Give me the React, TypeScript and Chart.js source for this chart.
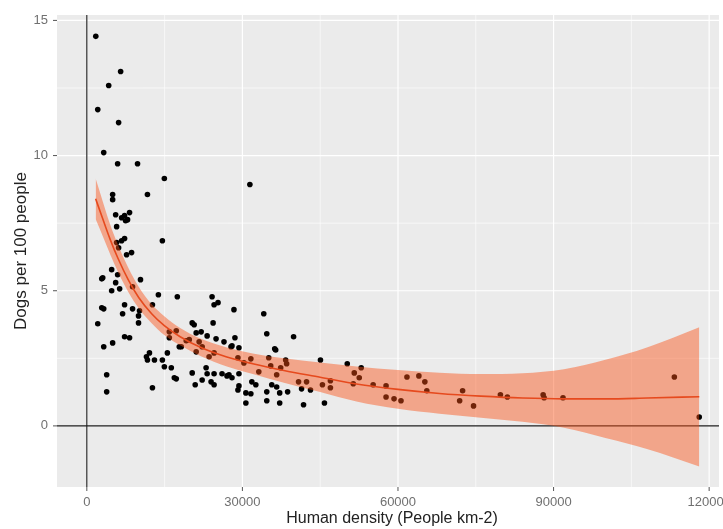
import React, { useEffect, useRef } from "react";
import { Chart, registerables } from "chart.js";

Chart.register(...registerables);

// Observed data: human density (people km-2) vs dogs per 100 people
const densityX = [
  1730, 6520, 4220, 2110, 6130, 3260, 5940, 9780, 14950, 11690,
  4980, 4980, 5560, 6710, 8240, 7860, 7280, 7480, 5750, 7280,
  6710, 14570, 5750, 6130, 8630, 7670, 4790, 5940, 3070, 5560,
  10350, 6330, 4790, 8820, 13800, 17450, 3260, 7280, 6900, 8820,
  10160, 9970, 12650, 2110, 9970, 7280, 8240, 4980, 3260, 20320,
  17250, 15910, 19170, 17830, 12080, 11690, 13040, 15530, 14950, 16290,
  17250, 20320, 20900, 3830, 12650, 3830, 24150, 24540, 25300, 28370,
  34120, 20700, 24350, 34700, 39870, 21090, 22050, 23200, 24920, 26450,
  27800, 28560, 29330, 36230, 22240, 21090, 23580, 24540, 29140, 31630,
  35080, 38340, 38530, 37380, 35460, 33160, 29330, 36610, 23000, 23200,
  24540, 26070, 27030, 27990, 22240, 23960, 24540, 29330, 29140, 31820,
  32590, 30670, 31630, 35660, 36610, 34700, 37190, 38720, 30670, 34700,
  37190, 41790, 40830, 42370, 43130, 36420, 45050, 50220, 52910, 51570,
  52530, 46970, 46970, 45430, 41410, 45820, 51380, 55210, 57700, 57700,
  59240, 60580, 61730, 64030, 65180, 65560, 72460, 71890, 74570, 79750,
  81090, 87990, 88180, 91820, 113290, 118090, 31440, 2880, 2880, 11500,
  14570, 16870, 15910, 18210, 19750, 21660, 27990, 30290, 27410,
];
const dogsY = [
  14.41, 13.11, 12.59, 11.7, 11.22, 10.11, 9.7, 9.7, 9.15, 8.56,
  8.56, 8.37, 7.81, 7.7, 7.89, 7.63, 7.78, 7.59, 7.37, 6.93,
  6.85, 6.85, 6.78, 6.59, 6.41, 6.33, 5.78, 5.59, 5.48, 5.3,
  5.41, 5.07, 5.0, 5.15, 4.85, 4.78, 4.33, 4.48, 4.15, 4.33,
  4.26, 4.07, 4.48, 3.78, 3.81, 3.3, 3.26, 3.07, 2.93, 3.81,
  3.52, 3.26, 3.15, 2.93, 2.7, 2.44, 2.44, 2.7, 2.19, 2.15,
  1.74, 1.96, 1.52, 1.89, 1.41, 1.26, 4.78, 4.48, 4.56, 4.3,
  4.15, 3.74, 3.81, 3.41, 3.3, 3.44, 3.48, 3.33, 3.22, 3.11,
  2.93, 3.26, 2.89, 2.85, 2.93, 2.74, 2.56, 2.7, 2.52, 2.48,
  2.52, 2.44, 2.3, 2.15, 2.22, 2.0, 1.93, 1.89, 2.15, 1.93,
  1.93, 1.93, 1.85, 1.78, 1.7, 1.63, 1.52, 1.48, 1.33, 1.63,
  1.52, 1.22, 1.19, 1.52, 1.44, 1.26, 1.22, 1.26, 0.85, 0.93,
  0.85, 0.78, 1.63, 1.63, 1.33, 2.81, 2.44, 2.3, 2.15, 1.96,
  1.78, 1.67, 1.41, 1.52, 1.37, 0.85, 1.56, 1.52, 1.48, 1.07,
  1.0, 0.93, 1.81, 1.85, 1.63, 1.3, 1.3, 0.93, 0.74, 1.15,
  1.07, 1.15, 1.04, 1.04, 1.81, 0.33, 8.93, 5.44, 4.37, 2.56,
  2.44, 1.78, 3.48, 2.93, 3.19, 3.11, 2.96, 2.33, 1.89,
];

// Fitted smooth curve and its confidence band
const fitX = [1700, 3000, 4500, 6000, 8000, 10000, 12500, 15000, 18000, 22000, 27000, 32000, 38000, 45000, 52000, 60000, 68000, 76000, 84000, 92000, 100000, 108000, 118100];
const fitY = [8.4, 7.7, 6.9, 6.2, 5.4, 4.75, 4.15, 3.7, 3.3, 2.9, 2.55, 2.3, 2.05, 1.8, 1.55, 1.35, 1.2, 1.1, 1.03, 1.0, 1.0, 1.03, 1.08];
const fitUpper = [9.15, 8.35, 7.45, 6.7, 5.85, 5.15, 4.5, 4.05, 3.62, 3.22, 2.9, 2.68, 2.5, 2.35, 2.2, 2.07, 1.97, 1.92, 1.95, 2.1, 2.45, 2.9, 3.65];
const fitLower = [7.65, 7.05, 6.35, 5.7, 4.95, 4.35, 3.8, 3.35, 2.98, 2.58, 2.2, 1.92, 1.6, 1.25, 0.9, 0.63, 0.45, 0.3, 0.15, -0.07, -0.45, -0.85, -1.5];

const xTicks = [0, 30000, 60000, 90000, 120000];
const yTicks = [0, 5, 10, 15];
const xMinor = [15000, 45000, 75000, 105000];
const yMinor = [2.5, 7.5, 12.5];
const xRange = [-5750, 121900];
const yRange = [-2.26, 15.2];

const xTitle = "Human density (People km-2)";
const yTitle = "Dogs per 100 people";

const FONT = "'Liberation Sans', Arial, sans-serif";

const panelPlugin = {
  id: "ggpanel",
  beforeDatasetsDraw(chart: any) {
    const { ctx, chartArea: a, scales } = chart;
    const xs = scales.x;
    const ys = scales.y;
    ctx.save();
    ctx.fillStyle = "#EBEBEB";
    ctx.fillRect(a.left, a.top, a.right - a.left, a.bottom - a.top);
    ctx.strokeStyle = "#FFFFFF";
    ctx.lineWidth = 0.6;
    xMinor.forEach((v) => {
      const p = xs.getPixelForValue(v);
      ctx.beginPath();
      ctx.moveTo(p, a.top);
      ctx.lineTo(p, a.bottom);
      ctx.stroke();
    });
    yMinor.forEach((v) => {
      const p = ys.getPixelForValue(v);
      ctx.beginPath();
      ctx.moveTo(a.left, p);
      ctx.lineTo(a.right, p);
      ctx.stroke();
    });
    ctx.lineWidth = 1.2;
    xTicks.forEach((v) => {
      const p = xs.getPixelForValue(v);
      ctx.beginPath();
      ctx.moveTo(p, a.top);
      ctx.lineTo(p, a.bottom);
      ctx.stroke();
    });
    yTicks.forEach((v) => {
      const p = ys.getPixelForValue(v);
      ctx.beginPath();
      ctx.moveTo(a.left, p);
      ctx.lineTo(a.right, p);
      ctx.stroke();
    });
    ctx.strokeStyle = "#1a1a1a";
    ctx.lineWidth = 1.1;
    const x0 = xs.getPixelForValue(0);
    const y0 = ys.getPixelForValue(0);
    ctx.beginPath();
    ctx.moveTo(x0, a.top);
    ctx.lineTo(x0, a.bottom);
    ctx.stroke();
    ctx.beginPath();
    ctx.moveTo(a.left, y0);
    ctx.lineTo(a.right, y0);
    ctx.stroke();
    ctx.restore();
  },
  afterDraw(chart: any) {
    const { ctx, chartArea: a, scales } = chart;
    const xs = scales.x;
    const ys = scales.y;
    ctx.save();
    ctx.strokeStyle = "#555555";
    ctx.lineWidth = 1;
    xTicks.forEach((v) => {
      const p = xs.getPixelForValue(v);
      ctx.beginPath();
      ctx.moveTo(p, a.bottom);
      ctx.lineTo(p, a.bottom + 4);
      ctx.stroke();
    });
    yTicks.forEach((v) => {
      const p = ys.getPixelForValue(v);
      ctx.beginPath();
      ctx.moveTo(a.left - 4, p);
      ctx.lineTo(a.left, p);
      ctx.stroke();
    });
    ctx.fillStyle = "#222222";
    ctx.textAlign = "center";
    ctx.textBaseline = "middle";
    ctx.font = `16px ${FONT}`;
    ctx.fillText(xTitle, (a.left + a.right) / 2 + 4, 519);
    ctx.font = `17px ${FONT}`;
    ctx.translate(21, (a.top + a.bottom) / 2);
    ctx.rotate(-Math.PI / 2);
    ctx.fillText(yTitle, 0, 0);
    ctx.restore();
  },
};

export default function App() {
  const ref = useRef<HTMLCanvasElement | null>(null);

  useEffect(() => {
    document.body.style.margin = "0";
    const canvas = ref.current;
    if (!canvas) return;
    const points = densityX.map((x, i) => ({ x, y: dogsY[i] }));
    const line = fitX.map((x, i) => ({ x, y: fitY[i] }));
    const upper = fitX.map((x, i) => ({ x, y: fitUpper[i] }));
    const lower = fitX.map((x, i) => ({ x, y: fitLower[i] }));

    const chart = new Chart(canvas, {
      type: "scatter",
      data: {
        datasets: [
          {
            label: "fit",
            type: "line",
            data: line,
            borderColor: "#E64A1E",
            borderWidth: 1.6,
            pointRadius: 0,
            cubicInterpolationMode: "monotone",
            fill: false,
            order: 0,
          } as any,
          {
            label: "upper",
            type: "line",
            data: upper,
            borderWidth: 0,
            borderColor: "rgba(0,0,0,0)",
            backgroundColor: "rgba(250,80,20,0.45)",
            pointRadius: 0,
            cubicInterpolationMode: "monotone",
            fill: "+1",
            order: 1,
          } as any,
          {
            label: "lower",
            type: "line",
            data: lower,
            borderWidth: 0,
            borderColor: "rgba(0,0,0,0)",
            pointRadius: 0,
            cubicInterpolationMode: "monotone",
            fill: false,
            order: 1,
          } as any,
          {
            label: "points",
            data: points,
            backgroundColor: "#000000",
            borderWidth: 0,
            pointRadius: 2.8,
            order: 2,
          },
        ],
      },
      options: {
        responsive: false,
        animation: false,
        layout: { padding: { top: 15, right: 0, left: 0, bottom: 0 } },
        plugins: {
          legend: { display: false },
          tooltip: { enabled: false },
        },
        scales: {
          x: {
            type: "linear",
            min: xRange[0],
            max: xRange[1],
            afterBuildTicks: (axis: any) => {
              axis.ticks = xTicks.map((v) => ({ value: v }));
            },
            afterFit: (axis: any) => {
              axis.height = 42;
              axis.paddingLeft = 0;
              axis.paddingRight = 0;
            },
            grid: { display: false, drawTicks: false },
            border: { display: false },
            ticks: {
              padding: 8,
              maxRotation: 0,
              autoSkip: false,
              color: "#707070",
              font: { family: FONT, size: 13 },
              callback: (v: any) => String(v),
            },
          },
          y: {
            type: "linear",
            min: yRange[0],
            max: yRange[1],
            afterBuildTicks: (axis: any) => {
              axis.ticks = yTicks.map((v) => ({ value: v }));
            },
            afterFit: (axis: any) => {
              axis.width = 57;
              axis.paddingTop = 0;
              axis.paddingBottom = 0;
            },
            grid: { display: false, drawTicks: false },
            border: { display: false },
            ticks: {
              padding: 9,
              autoSkip: false,
              color: "#707070",
              font: { family: FONT, size: 13 },
              callback: (v: any) => String(v),
            },
          },
        },
      },
      plugins: [panelPlugin],
    });
    return () => chart.destroy();
  }, []);

  return (
    <div style={{ width: 723, height: 529 }}>
      <canvas ref={ref} width={723} height={529} style={{ display: "block" }} />
    </div>
  );
}
